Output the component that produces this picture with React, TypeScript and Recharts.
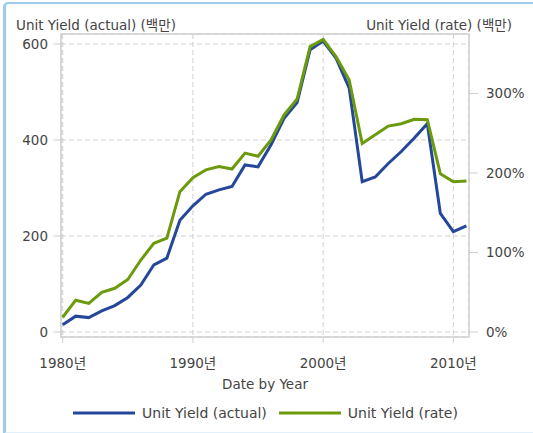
import {
  LineChart, Line, XAxis, YAxis, CartesianGrid,
  ReferenceArea, Legend,
} from "recharts";

const years = [
  1980, 1981, 1982, 1983, 1984, 1985, 1986, 1987, 1988, 1989,
  1990, 1991, 1992, 1993, 1994, 1995, 1996, 1997, 1998, 1999,
  2000, 2001, 2002, 2003, 2004, 2005, 2006, 2007, 2008, 2009,
  2010, 2011,
];
const actual = [
  15, 33, 30, 44, 55, 72, 98, 140, 154, 233,
  263, 287, 296, 303, 348, 344, 390, 445, 478, 588,
  606, 570, 508, 313, 323, 351, 376, 404, 434, 247,
  209, 221,
];
const rate = [
  0.185, 0.40, 0.36, 0.50, 0.55, 0.66, 0.905, 1.115, 1.18, 1.765,
  1.94, 2.04, 2.08, 2.05, 2.25, 2.21, 2.415, 2.73, 2.93, 3.59,
  3.68, 3.46, 3.17, 2.37, 2.48, 2.59, 2.62, 2.675, 2.67, 1.99,
  1.89, 1.90,
];
const xTicks = [1980, 1990, 2000, 2010];
const leftTicks = [0, 200, 400, 600];
const rightTicks = [0, 1, 2, 3];

const data = years.map((y, i) => ({ year: y, actual: actual[i], rate: rate[i] }));

const FONT = "'DejaVu Sans', 'Noto Sans CJK KR', sans-serif";
const TEXT = "#444";
const FRAME = "#d0d0d0";
const BLUE = "#24479a";
const GREEN = "#6b9a0c";
const FS = 13.5;

const xDomain = [1979.87, 2011.2];
const leftDomain = [-10.4, 620.8];
const rightDomain = [-0.063, 3.748];

function LegendBox() {
  const items = [
    { label: "Unit Yield (actual)", color: BLUE },
    { label: "Unit Yield (rate)", color: GREEN },
  ];
  return (
    <div style={{ display: "flex", justifyContent: "center", alignItems: "center", height: 30, paddingLeft: 10 }}>
      {items.map((it) => (
        <div key={it.label} style={{ display: "flex", alignItems: "center", marginRight: 12 }}>
          <svg width={62} height={6} style={{ marginRight: 7 }}>
            <line x1={0} y1={3} x2={62} y2={3} stroke={it.color} strokeWidth={3} />
          </svg>
          <span style={{ fontFamily: FONT, fontSize: 14, color: TEXT }}>{it.label}</span>
        </div>
      ))}
    </div>
  );
}

export default function App() {
  return (
    <div style={{ position: "absolute", left: 0, top: 0, width: 533, height: 433, overflow: "hidden", background: "#fff" }}>
      <div
        style={{
          position: "absolute", left: 3, top: 2, width: 560, height: 428,
          borderLeft: "3px solid #9ccbee", borderTop: "2px solid #9ccbee",
          borderBottom: "2px solid #e2f0fb", borderTopLeftRadius: 5,
        }}
      />
      <div style={{ position: "absolute", left: 16, top: 14, fontFamily: FONT, fontSize: FS, color: TEXT, whiteSpace: "nowrap" }}>
        Unit Yield (actual) (백만)
      </div>
      <div style={{ position: "absolute", right: 21, top: 14, fontFamily: FONT, fontSize: FS, color: TEXT, whiteSpace: "nowrap" }}>
        Unit Yield (rate) (백만)
      </div>
      <LineChart
        width={533}
        height={433}
        data={data}
        margin={{ top: 34, right: 0, bottom: 5, left: 0 }}
        style={{ position: "absolute", left: 0, top: 0 }}
      >
        <CartesianGrid yAxisId="left" stroke={FRAME} strokeDasharray="5 3" />
        <XAxis
          dataKey="year"
          type="number"
          domain={xDomain}
          allowDataOverflow
          ticks={xTicks}
          tickFormatter={(v) => `${v}년`}
          height={61}
          tickSize={6}
          tickMargin={15}
          axisLine={false}
          tickLine={{ stroke: FRAME }}
          tick={{ fill: TEXT, fontSize: FS, fontFamily: FONT }}
          label={{ value: "Date by Year", position: "insideBottom", offset: 9, fill: TEXT, fontSize: FS, fontFamily: FONT }}
        />
        <YAxis
          yAxisId="left"
          type="number"
          domain={leftDomain}
          allowDataOverflow
          ticks={leftTicks}
          width={61}
          tickSize={8}
          tickMargin={5}
          axisLine={false}
          tickLine={{ stroke: FRAME }}
          tick={{ fill: TEXT, fontSize: FS, fontFamily: FONT }}
        />
        <YAxis
          yAxisId="right"
          orientation="right"
          type="number"
          domain={rightDomain}
          allowDataOverflow
          ticks={rightTicks}
          tickFormatter={(v) => `${Math.round(v * 100)}%`}
          width={64}
          tickSize={9}
          tickMargin={8}
          axisLine={false}
          tickLine={{ stroke: FRAME }}
          tick={{ fill: TEXT, fontSize: FS, fontFamily: FONT }}
        />
        <ReferenceArea
          yAxisId="left"
          x1={xDomain[0]}
          x2={xDomain[1]}
          y1={leftDomain[0]}
          y2={leftDomain[1]}
          fill="none"
          stroke={FRAME}
          strokeWidth={1.5}
        />
        <Legend verticalAlign="bottom" content={() => <LegendBox />} wrapperStyle={{ height: 30 }} />
        <Line
          yAxisId="left"
          dataKey="actual"
          name="Unit Yield (actual)"
          type="linear"
          stroke={BLUE}
          strokeWidth={3}
          dot={false}
          isAnimationActive={false}
        />
        <Line
          yAxisId="right"
          dataKey="rate"
          name="Unit Yield (rate)"
          type="linear"
          stroke={GREEN}
          strokeWidth={3}
          dot={false}
          isAnimationActive={false}
        />
      </LineChart>
    </div>
  );
}
